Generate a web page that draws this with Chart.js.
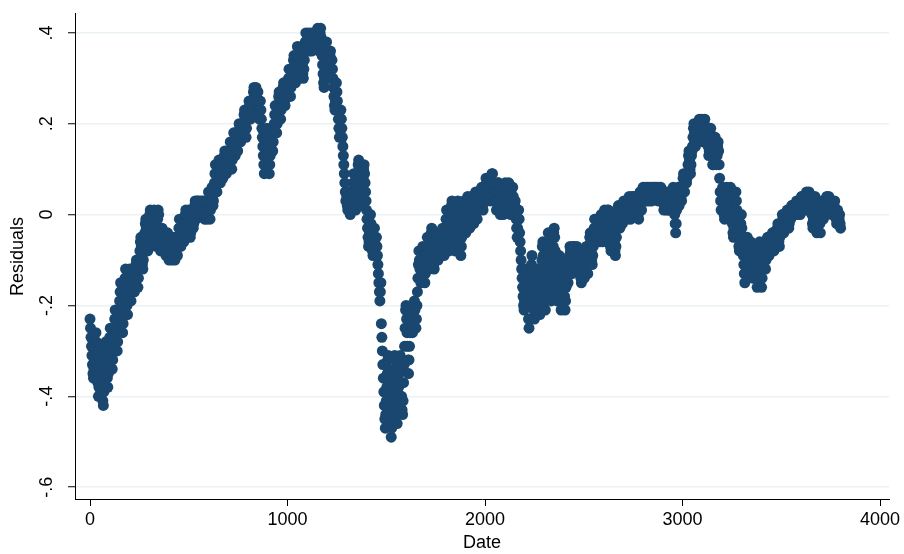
<!DOCTYPE html>
<html>
<head>
<meta charset="utf-8">
<script src="https://cdn.jsdelivr.net/npm/chart.js@4.4.1/dist/chart.umd.min.js"></script>
<style>
  html, body { margin: 0; padding: 0; background: #fff; }
  #residualsChart { display: block; }
</style>
</head>
<body>
<canvas id="residualsChart" width="904" height="554"></canvas>
<script>
// Residuals every 2.5 dates, one row per 100 dates
const dateStep = 2.5;
const residuals = [
  -0.23,-0.25,-0.27,-0.29,-0.31,-0.33,-0.35,-0.36,-0.34,-0.32, -0.30,-0.28,-0.26,-0.28,-0.31,-0.34,-0.37,-0.40,-0.38,-0.35, -0.33,-0.31,-0.29,-0.32,-0.35,-0.38,-0.41,-0.42,-0.39,-0.36, -0.33,-0.30,-0.28,-0.30,-0.33,-0.36,-0.38,-0.35,-0.32,-0.29,
  -0.27,-0.25,-0.27,-0.30,-0.32,-0.34,-0.32,-0.29,-0.27,-0.25, -0.23,-0.21,-0.23,-0.26,-0.28,-0.30,-0.28,-0.25,-0.23,-0.21, -0.19,-0.17,-0.15,-0.17,-0.20,-0.23,-0.26,-0.24,-0.21,-0.18, -0.16,-0.14,-0.12,-0.14,-0.17,-0.20,-0.22,-0.19,-0.16,-0.14,
  -0.12,-0.14,-0.16,-0.19,-0.17,-0.15,-0.13,-0.12,-0.14,-0.16, -0.17,-0.15,-0.13,-0.11,-0.10,-0.12,-0.14,-0.16,-0.14,-0.12, -0.10,-0.08,-0.06,-0.05,-0.07,-0.09,-0.11,-0.12,-0.10,-0.08, -0.06,-0.04,-0.02,-0.01,-0.03,-0.05,-0.07,-0.08,-0.06,-0.04,
  -0.02,0.00,0.01,-0.01,-0.03,-0.05,-0.06,-0.04,-0.02,0.00, 0.01,-0.01,-0.03,-0.05,-0.07,-0.05,-0.03,-0.01,0.01,0.00, -0.03,-0.05,-0.07,-0.08,-0.06,-0.04,-0.03,-0.05,-0.07,-0.08, -0.06,-0.04,-0.05,-0.07,-0.09,-0.08,-0.06,-0.04,-0.06,-0.08,
  -0.10,-0.08,-0.06,-0.05,-0.07,-0.09,-0.10,-0.08,-0.06,-0.05, -0.07,-0.09,-0.10,-0.08,-0.06,-0.05,-0.07,-0.09,-0.07,-0.05, -0.03,-0.01,-0.03,-0.05,-0.07,-0.05,-0.03,-0.01,-0.03,-0.05, -0.06,-0.04,-0.02,0.00,0.01,-0.01,-0.03,-0.05,-0.03,-0.01,
  0.01,-0.01,-0.03,-0.05,-0.04,-0.02,0.00,0.01,-0.01,-0.03, -0.02,0.00,0.02,0.03,0.01,-0.01,0.01,0.03,0.03,0.01, 0.00,0.02,0.03,0.01,0.00,0.02,0.03,0.01,0.00,0.02, 0.03,0.01,-0.01,0.01,0.03,0.03,0.01,-0.01,0.01,0.03,
  0.05,0.03,0.01,-0.01,0.01,0.03,0.05,0.06,0.04,0.02, 0.03,0.05,0.07,0.09,0.11,0.09,0.07,0.05,0.07,0.09, 0.11,0.12,0.10,0.08,0.07,0.09,0.11,0.12,0.10,0.08, 0.09,0.11,0.13,0.14,0.12,0.10,0.09,0.11,0.13,0.14,
  0.12,0.10,0.12,0.14,0.16,0.14,0.12,0.10,0.12,0.14, 0.16,0.18,0.16,0.14,0.13,0.15,0.17,0.18,0.16,0.14, 0.16,0.18,0.20,0.19,0.17,0.16,0.18,0.20,0.19,0.17, 0.18,0.20,0.22,0.23,0.21,0.19,0.17,0.19,0.21,0.23,
  0.21,0.23,0.25,0.24,0.22,0.21,0.23,0.25,0.24,0.22, 0.25,0.27,0.28,0.26,0.25,0.27,0.28,0.26,0.25,0.27, 0.27,0.25,0.23,0.21,0.23,0.25,0.23,0.21,0.19,0.17, 0.15,0.13,0.11,0.09,0.11,0.13,0.15,0.17,0.19,0.17,
  0.15,0.13,0.11,0.09,0.11,0.13,0.15,0.17,0.18,0.16, 0.14,0.16,0.18,0.20,0.22,0.24,0.22,0.20,0.18,0.20, 0.22,0.24,0.26,0.27,0.25,0.23,0.21,0.23,0.25,0.27, 0.26,0.28,0.29,0.27,0.25,0.24,0.26,0.28,0.29,0.27,
  0.26,0.28,0.30,0.32,0.30,0.28,0.26,0.28,0.30,0.32, 0.30,0.32,0.34,0.35,0.33,0.31,0.29,0.31,0.33,0.35, 0.37,0.35,0.33,0.31,0.30,0.32,0.34,0.36,0.37,0.35, 0.33,0.31,0.30,0.32,0.34,0.36,0.38,0.40,0.38,0.36,
  0.37,0.39,0.40,0.38,0.36,0.37,0.39,0.40,0.38,0.36, 0.37,0.39,0.40,0.38,0.37,0.39,0.40,0.38,0.37,0.39, 0.40,0.41,0.39,0.37,0.36,0.38,0.40,0.41,0.39,0.37, 0.35,0.33,0.31,0.29,0.28,0.30,0.32,0.34,0.36,0.38,
  0.36,0.34,0.32,0.30,0.31,0.33,0.35,0.36,0.34,0.32, 0.34,0.32,0.30,0.28,0.26,0.24,0.23,0.25,0.27,0.29, 0.27,0.25,0.23,0.21,0.19,0.17,0.19,0.21,0.23,0.21, 0.19,0.17,0.15,0.13,0.11,0.09,0.07,0.05,0.03,0.05,
  0.04,0.02,0.01,0.03,0.05,0.04,0.02,0.00,0.02,0.04, 0.01,0.03,0.05,0.07,0.09,0.07,0.05,0.03,0.01,0.03, 0.05,0.07,0.09,0.11,0.12,0.10,0.08,0.06,0.04,0.02, 0.02,0.04,0.06,0.08,0.10,0.11,0.09,0.07,0.05,0.03,
  0.01,-0.01,-0.03,-0.05,-0.07,-0.06,-0.04,-0.02,0.00,-0.02, -0.04,-0.06,-0.08,-0.09,-0.07,-0.05,-0.03,-0.05,-0.07,-0.09, -0.05,-0.07,-0.09,-0.11,-0.13,-0.15,-0.17,-0.19,-0.17,-0.15, -0.24,-0.27,-0.30,-0.33,-0.36,-0.39,-0.42,-0.45,-0.47,-0.44,
  -0.41,-0.38,-0.35,-0.32,-0.31,-0.34,-0.37,-0.40,-0.43,-0.46, -0.49,-0.47,-0.44,-0.41,-0.38,-0.35,-0.32,-0.31,-0.34,-0.37, -0.40,-0.43,-0.46,-0.44,-0.41,-0.38,-0.35,-0.32,-0.31,-0.34, -0.37,-0.40,-0.43,-0.44,-0.41,-0.37,-0.33,-0.29,-0.25,-0.21,
  -0.20,-0.23,-0.26,-0.29,-0.32,-0.35,-0.32,-0.29,-0.26,-0.23, -0.20,-0.22,-0.24,-0.26,-0.25,-0.23,-0.21,-0.19,-0.21,-0.23, -0.25,-0.23,-0.20,-0.17,-0.14,-0.11,-0.08,-0.10,-0.12,-0.14, -0.15,-0.13,-0.11,-0.09,-0.07,-0.09,-0.11,-0.13,-0.15,-0.13,
  -0.11,-0.09,-0.07,-0.05,-0.07,-0.09,-0.11,-0.12,-0.10,-0.08, -0.06,-0.04,-0.03,-0.05,-0.07,-0.09,-0.11,-0.12,-0.10,-0.08, -0.06,-0.04,-0.05,-0.07,-0.09,-0.10,-0.08,-0.06,-0.04,-0.06, -0.08,-0.09,-0.07,-0.05,-0.03,-0.05,-0.07,-0.09,-0.07,-0.05,
  -0.03,-0.01,0.01,-0.01,-0.03,-0.05,-0.07,-0.08,-0.06,-0.04, -0.02,0.00,0.02,0.03,0.01,-0.01,-0.03,-0.05,-0.07,-0.08, -0.06,-0.04,-0.02,0.00,0.02,0.03,0.01,-0.01,-0.03,-0.05, -0.07,-0.09,-0.07,-0.05,-0.03,-0.01,0.01,0.03,0.01,-0.01,
  -0.03,-0.04,-0.02,0.00,0.02,0.04,0.03,0.01,-0.01,-0.03, -0.02,0.00,0.02,0.04,0.04,0.02,0.00,-0.02,0.00,0.02, 0.04,0.05,0.03,0.01,-0.01,0.01,0.03,0.05,0.04,0.02, 0.01,0.03,0.05,0.06,0.04,0.02,0.01,0.03,0.05,0.06,
  0.04,0.06,0.08,0.07,0.05,0.03,0.05,0.07,0.08,0.06, 0.04,0.03,0.05,0.07,0.09,0.09,0.07,0.05,0.03,0.05, 0.07,0.05,0.03,0.01,0.03,0.05,0.07,0.07,0.05,0.03, 0.01,0.00,0.02,0.04,0.05,0.03,0.01,0.00,0.02,0.04,
  0.05,0.07,0.06,0.04,0.02,0.01,0.03,0.05,0.07,0.05, 0.03,0.01,0.00,0.02,0.04,0.06,0.06,0.04,0.02,0.00, 0.02,0.03,0.01,-0.01,-0.03,-0.05,-0.03,-0.01,0.01,-0.01, -0.04,-0.06,-0.08,-0.10,-0.12,-0.14,-0.16,-0.18,-0.20,-0.21,
  -0.19,-0.17,-0.15,-0.13,-0.12,-0.14,-0.17,-0.20,-0.23,-0.25, -0.23,-0.20,-0.17,-0.14,-0.11,-0.09,-0.12,-0.15,-0.18,-0.21, -0.23,-0.21,-0.19,-0.17,-0.15,-0.13,-0.12,-0.14,-0.16,-0.18, -0.20,-0.22,-0.19,-0.16,-0.13,-0.10,-0.07,-0.06,-0.09,-0.12,
  -0.15,-0.18,-0.21,-0.19,-0.16,-0.13,-0.10,-0.07,-0.04,-0.06, -0.09,-0.12,-0.15,-0.18,-0.19,-0.16,-0.13,-0.10,-0.07,-0.04, -0.03,-0.05,-0.08,-0.11,-0.14,-0.17,-0.19,-0.16,-0.13,-0.10, -0.09,-0.12,-0.15,-0.18,-0.21,-0.19,-0.16,-0.13,-0.10,-0.12,
  -0.15,-0.18,-0.21,-0.19,-0.16,-0.13,-0.11,-0.13,-0.15,-0.13, -0.11,-0.09,-0.07,-0.08,-0.10,-0.12,-0.13,-0.11,-0.09,-0.07, -0.07,-0.09,-0.11,-0.12,-0.10,-0.08,-0.07,-0.09,-0.11,-0.12, -0.10,-0.08,-0.10,-0.12,-0.14,-0.15,-0.13,-0.11,-0.09,-0.11,
  -0.13,-0.14,-0.12,-0.10,-0.08,-0.07,-0.09,-0.11,-0.13,-0.11, -0.09,-0.07,-0.05,-0.04,-0.06,-0.08,-0.10,-0.11,-0.09,-0.07, -0.05,-0.03,-0.01,-0.01,-0.03,-0.05,-0.06,-0.04,-0.02,-0.01, -0.03,-0.05,-0.06,-0.04,-0.02,0.00,-0.02,-0.04,-0.06,-0.04,
  -0.02,0.00,0.01,-0.01,-0.03,-0.04,-0.02,0.00,0.01,-0.01, 0.01,-0.01,-0.03,-0.05,-0.07,-0.08,-0.06,-0.04,-0.02,0.00, -0.02,-0.04,-0.06,-0.08,-0.09,-0.07,-0.05,-0.03,-0.01,0.01, 0.02,0.00,-0.02,-0.03,-0.01,0.01,0.02,0.00,-0.02,0.00,
  0.02,0.03,0.01,-0.01,-0.01,0.01,0.03,0.03,0.01,-0.01, 0.01,0.03,0.04,0.02,0.00,-0.01,0.01,0.03,0.04,0.02, 0.00,0.02,0.04,0.04,0.02,0.00,0.01,0.03,0.04,0.02, 0.00,-0.01,0.01,0.03,0.05,0.05,0.03,0.01,0.03,0.05,
  0.06,0.04,0.03,0.05,0.06,0.04,0.03,0.05,0.06,0.04, 0.03,0.05,0.06,0.04,0.03,0.05,0.06,0.04,0.03,0.05, 0.06,0.05,0.04,0.06,0.06,0.04,0.04,0.05,0.06,0.04, 0.03,0.05,0.06,0.04,0.03,0.05,0.06,0.04,0.03,0.05,
  0.05,0.03,0.01,0.02,0.04,0.05,0.03,0.01,0.02,0.04, 0.05,0.03,0.01,0.01,0.03,0.05,0.04,0.02,0.01,0.03, 0.05,0.06,0.04,0.02,0.00,-0.02,-0.04,-0.02,0.01,0.03, 0.05,0.06,0.04,0.02,0.03,0.05,0.06,0.04,0.03,0.05,
  0.06,0.08,0.09,0.07,0.05,0.07,0.09,0.09,0.07,0.08, 0.09,0.11,0.13,0.14,0.12,0.10,0.09,0.11,0.13,0.14, 0.15,0.17,0.19,0.20,0.18,0.16,0.15,0.17,0.19,0.20, 0.19,0.17,0.18,0.20,0.21,0.19,0.17,0.18,0.20,0.21,
  0.19,0.17,0.16,0.18,0.20,0.21,0.19,0.17,0.16,0.18, 0.19,0.17,0.15,0.13,0.14,0.16,0.18,0.19,0.17,0.15, 0.13,0.11,0.11,0.13,0.15,0.17,0.17,0.15,0.13,0.11, 0.13,0.15,0.16,0.14,0.11,0.08,0.05,0.03,0.01,0.03,
  0.05,0.06,0.04,0.02,0.00,-0.01,0.01,0.03,0.05,0.06, 0.04,0.02,0.00,-0.01,0.01,0.03,0.05,0.06,0.04,0.02, 0.00,-0.02,-0.04,-0.05,-0.03,-0.01,0.01,0.03,0.05,0.03, 0.01,-0.01,-0.03,-0.05,-0.07,-0.08,-0.06,-0.04,-0.02,0.00,
  -0.03,-0.05,-0.07,-0.09,-0.11,-0.13,-0.15,-0.13,-0.11,-0.09, -0.07,-0.05,-0.07,-0.09,-0.11,-0.12,-0.10,-0.08,-0.06,-0.08, -0.10,-0.12,-0.14,-0.12,-0.10,-0.08,-0.07,-0.09,-0.11,-0.13, -0.14,-0.16,-0.14,-0.12,-0.10,-0.08,-0.06,-0.08,-0.11,-0.14,
  -0.16,-0.14,-0.12,-0.10,-0.08,-0.06,-0.08,-0.10,-0.12,-0.10, -0.08,-0.06,-0.05,-0.07,-0.09,-0.09,-0.07,-0.05,-0.06,-0.08, -0.08,-0.06,-0.04,-0.04,-0.06,-0.08,-0.07,-0.05,-0.04,-0.06, -0.07,-0.05,-0.03,-0.02,-0.04,-0.06,-0.07,-0.05,-0.03,-0.02,
  -0.04,-0.02,0.00,-0.01,-0.03,-0.04,-0.02,0.00,-0.01,-0.03, -0.03,-0.01,0.01,0.01,-0.01,-0.03,-0.02,0.00,0.01,-0.01, 0.00,0.02,0.02,0.00,0.01,0.02,0.02,0.00,0.01,0.02, 0.01,0.03,0.03,0.01,0.00,0.02,0.03,0.02,0.00,0.01,
  0.02,0.04,0.04,0.02,0.01,0.03,0.04,0.03,0.01,0.02, 0.04,0.05,0.03,0.01,0.02,0.04,0.05,0.03,0.01,0.03, 0.04,0.02,0.00,-0.02,-0.03,-0.01,0.01,0.03,0.04,0.02, 0.00,-0.02,-0.04,-0.03,-0.01,0.01,0.02,0.00,-0.02,-0.04,
  -0.01,0.01,0.03,0.03,0.01,-0.01,0.00,0.02,0.03,0.01, 0.01,0.03,0.04,0.02,0.01,0.03,0.04,0.02,0.01,0.03, 0.03,0.01,0.00,0.02,0.03,0.01,0.00,0.02,0.03,0.01, 0.01,-0.01,-0.02,0.00,0.01,-0.01,-0.02,-0.01,0.00,-0.02,
  -0.03
];
const dates = residuals.map((_, i) => i * dateStep);

const xTicks = [0, 1000, 2000, 3000, 4000];
const yTicks = [-0.6, -0.4, -0.2, 0, 0.2, 0.4];
const yTickLabels = ["-.6", "-.4", "-.2", "0", ".2", ".4"];

const fontFamily = "'Liberation Sans', Arial, sans-serif";
let chartInstance = null;

// Vertical y tick labels, read bottom to top
const verticalYLabels = {
    id: "verticalYLabels",
    afterDraw(chart) {
        const { ctx, scales: { y } } = chart;
        ctx.save();
        ctx.fillStyle = "#000";
        ctx.font = `18px ${fontFamily}`;
        ctx.textAlign = "center";
        ctx.textBaseline = "middle";
        yTicks.forEach((v, i) => {
            ctx.save();
            ctx.translate(y.right - 28, y.getPixelForValue(v));
            ctx.rotate(-Math.PI / 2);
            ctx.fillText(yTickLabels[i], 0, 0);
            ctx.restore();
        });
        ctx.restore();
    }
};

function drawChart() {
    const ctx = document.getElementById("residualsChart").getContext("2d");

    chartInstance = new Chart(ctx, {
        type: "scatter",
        data: {
            datasets: [{
                label: "Residuals",
                data: dates.map((d, i) => ({ x: d, y: residuals[i] })),
                backgroundColor: "#1a476f",
                borderWidth: 0,
                pointRadius: 5.5,
                pointHoverRadius: 5.5
            }]
        },
        options: {
            responsive: false,
            animation: false,
            devicePixelRatio: 1,
            layout: { padding: { top: 7, right: 15, left: 0, bottom: 0 } },
            plugins: {
                legend: { display: false },
                tooltip: { enabled: false }
            },
            scales: {
                x: {
                    type: "linear",
                    min: -76,
                    max: 4045,
                    afterBuildTicks: scale => { scale.ticks = xTicks.map(v => ({ value: v })); },
                    afterFit: scale => { scale.height = 55; },
                    grid: { drawOnChartArea: false, tickColor: "#000", tickLength: 7, tickWidth: 1 },
                    border: { display: true, color: "#000", width: 1 },
                    ticks: {
                        color: "#000",
                        padding: 3,
                        maxRotation: 0,
                        font: { family: fontFamily, size: 18 },
                        callback: v => String(v)
                    },
                    title: {
                        display: true,
                        text: "Date",
                        color: "#000",
                        font: { family: fontFamily, size: 18 },
                        padding: { top: 0, bottom: 0 }
                    }
                },
                y: {
                    min: -0.626,
                    max: 0.442,
                    afterBuildTicks: scale => { scale.ticks = yTicks.map(v => ({ value: v })); },
                    afterFit: scale => { scale.width = 75; },
                    grid: { color: "#eaf2f3", lineWidth: 1.5, tickColor: "#000", tickLength: 7, tickWidth: 1 },
                    border: { display: true, color: "#000", width: 1 },
                    ticks: {
                        color: "rgba(0,0,0,0)",
                        font: { family: fontFamily, size: 18 },
                        callback: (v, i) => yTickLabels[i]
                    },
                    title: {
                        display: true,
                        text: "Residuals",
                        color: "#000",
                        font: { family: fontFamily, size: 18 },
                        padding: { top: 7, bottom: 0 }
                    }
                }
            }
        },
        plugins: [verticalYLabels]
    });
}

document.addEventListener("DOMContentLoaded", drawChart);
</script>
</body>
</html>
